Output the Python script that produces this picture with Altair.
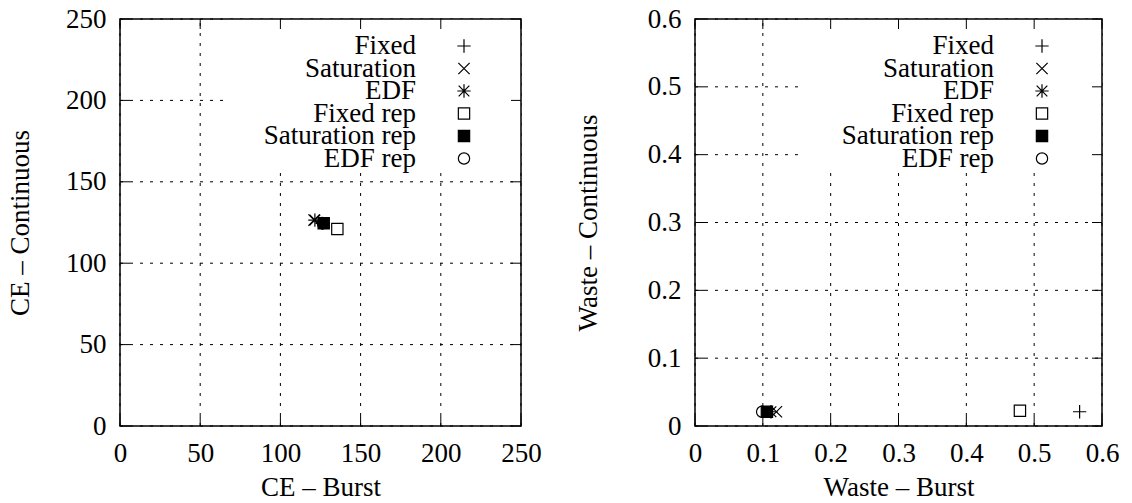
import altair as alt
import pandas as pd

series = ["Fixed", "Saturation", "EDF", "Fixed rep", "Saturation rep", "EDF rep"]
ce_burst = [126, 121, 121.5, 135.5, 127, 126.5]
ce_cont = [124.5, 126.5, 126.5, 121, 124.5, 124.5]
waste_burst = [0.567, 0.12, 0.112, 0.479, 0.106, 0.099]
waste_cont = [0.021, 0.021, 0.021, 0.0225, 0.021, 0.021]

ce_ticks = [0, 50, 100, 150, 200, 250]
waste_ticks = [0, 0.1, 0.2, 0.3, 0.4, 0.5, 0.6]

# key box (background of the key, data units): x0, x1, y0, y1
ce_key_box = [68, 250, 156, 250]
waste_key_box = [0.161, 0.6, 0.376, 0.6]

FONT = "'Liberation Serif', 'Times New Roman', Times, serif"
FS = 27

shape_paths = [
    "M-1,0L1,0M0,-1L0,1",
    "M-0.85,-0.85L0.85,0.85M-0.85,0.85L0.85,-0.85",
    "M-1,0L1,0M0,-1L0,1M-0.8,-0.8L0.8,0.8M-0.8,0.8L0.8,-0.8",
    "M-0.85,-0.85L0.85,-0.85L0.85,0.85L-0.85,0.85Z",
    "M-0.85,-0.85L0.85,-0.85L0.85,0.85L-0.85,0.85Z",
    "M0.85,0A0.85,0.85,0,1,1,-0.85,0A0.85,0.85,0,1,1,0.85,0Z",
]
fill_colors = ["transparent", "transparent", "transparent", "transparent", "black", "transparent"]

shape_enc = alt.Shape("series:N", scale=alt.Scale(domain=series, range=shape_paths), legend=None)
fill_enc = alt.Fill("series:N", scale=alt.Scale(domain=series, range=fill_colors), legend=None)


def panel(xv, yv, ticks, box, xtitle, ytitle, W, H, text_x, sym_x, ytpad, fmt):
    dom = [ticks[0], ticks[-1]]
    xs = alt.Scale(domain=dom, nice=False, zero=False)
    ys = alt.Scale(domain=dom, nice=False, zero=False)
    xaxis = alt.Axis(values=ticks, title=xtitle, ticks=False, domain=False, grid=False,
                     labelPadding=14, titlePadding=8, format=fmt, labelFlush=False)
    yaxis = alt.Axis(values=ticks, title=ytitle, ticks=False, domain=False, grid=False,
                     labelPadding=14, titlePadding=ytpad, format=fmt, labelFlush=False)

    def X(f):
        return alt.X(f"{f}:Q", scale=xs, axis=xaxis)

    def Y(f):
        return alt.Y(f"{f}:Q", scale=ys, axis=yaxis)

    pts_df = pd.DataFrame({"series": series, "x": xv, "y": yv})
    tick_df = pd.DataFrame({"t": ticks})
    box_df = pd.DataFrame({"x0": [box[0]], "x1": [box[1]], "y0": [box[2]], "y1": [box[3]]})

    grid_style = dict(color="black", strokeWidth=1, strokeDash=[3, 7])
    vgrid = alt.Chart(tick_df).mark_rule(**grid_style).encode(x=X("t"), y=alt.value(H), y2=alt.value(0))
    hgrid = alt.Chart(tick_df).mark_rule(**grid_style).encode(y=Y("t"), x=alt.value(0), x2=alt.value(W))
    keybox = alt.Chart(box_df).mark_rect(fill="white").encode(x=X("x0"), x2="x1", y=Y("y0"), y2="y1")
    tk = dict(color="black", strokeWidth=1)
    tb = alt.Chart(tick_df).mark_rule(**tk).encode(x=X("t"), y=alt.value(H), y2=alt.value(H - 10))
    tt = alt.Chart(tick_df).mark_rule(**tk).encode(x=X("t"), y=alt.value(0), y2=alt.value(10))
    tl = alt.Chart(tick_df).mark_rule(**tk).encode(y=Y("t"), x=alt.value(0), x2=alt.value(10))
    tr = alt.Chart(tick_df).mark_rule(**tk).encode(y=Y("t"), x=alt.value(W), x2=alt.value(W - 10))
    pts = alt.Chart(pts_df).mark_point(filled=True, opacity=1, stroke="black", strokeWidth=1.2, size=177).encode(
        x=X("x"), y=Y("y"), shape=shape_enc, fill=fill_enc)
    frame = alt.Chart(box_df).mark_rect(fill="transparent", stroke="black", strokeWidth=1.5).encode(
        x=alt.value(0), x2=alt.value(W), y=alt.value(0), y2=alt.value(H))
    main = alt.layer(vgrid, hgrid, keybox, tb, tt, tl, tr, pts, frame)

    leg_df = pd.DataFrame({"series": series, "row": list(range(len(series)))})
    ly = alt.Y("row:Q", scale=alt.Scale(domain=[0, 5], range=[27, 139.5], zero=False, nice=False), axis=None)
    ltext = alt.Chart(leg_df).mark_text(align="right", baseline="middle", font=FONT, fontSize=FS,
                                        color="black").encode(text="series:N", x=alt.value(text_x), y=ly)
    lsym = alt.Chart(leg_df).mark_point(filled=True, opacity=1, stroke="black", strokeWidth=1.2, size=177).encode(
        x=alt.value(sym_x), y=ly, shape=shape_enc, fill=fill_enc)
    legend = alt.layer(ltext, lsym)

    return alt.layer(main, legend).resolve_scale(x="independent", y="independent").properties(width=W, height=H)


left = panel(ce_burst, ce_cont, ce_ticks, ce_key_box, "CE \u2013 Burst", "CE \u2013 Continuous",
             401, 407, 296, 344, 31, "d")
right = panel(waste_burst, waste_cont, waste_ticks, waste_key_box, "Waste \u2013 Burst", "Waste \u2013 Continuous",
              407, 407, 299, 347, 45, ".1~f")

chart = alt.hconcat(left, right, spacing=32).properties(
    padding={"left": 6, "top": 5, "right": 0, "bottom": 0}
).configure_view(stroke=None).configure_axis(
    labelFont=FONT, labelFontSize=FS, labelColor="black",
    titleFont=FONT, titleFontSize=FS, titleFontWeight="normal", titleColor="black"
)

chart.save("out.html", embed_options={"renderer": "svg", "actions": False})
